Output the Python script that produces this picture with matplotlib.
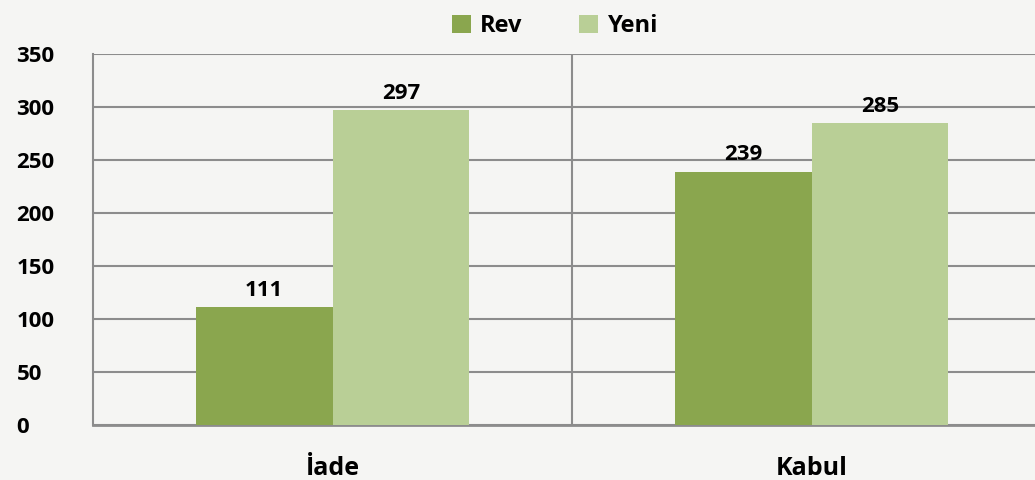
import matplotlib.pyplot as plt
import numpy as np

categories = ['İade', 'Kabul']
rev = [111, 239]
yeni = [297, 285]
yticks = [0, 50, 100, 150, 200, 250, 300, 350]

plt.rcParams['font.family'] = ['Open Sans', 'DejaVu Sans']
plt.rcParams['font.weight'] = 'bold'

bg = '#f5f5f3'
fig = plt.figure(figsize=(10.35, 4.8), dpi=100, facecolor=bg)
ax = fig.add_axes([93 / 1035, 55 / 480, 958 / 1035, 371 / 480])
ax.set_facecolor(bg)

x = np.arange(len(categories))
w = 0.286
b1 = ax.bar(x - w / 2, rev, w, color='#8aa64e', label='Rev', zorder=3)
b2 = ax.bar(x + w / 2, yeni, w, color='#b9cf96', label='Yeni', zorder=3)

for bars, vals in [(b1, rev), (b2, yeni)]:
    for bar, v in zip(bars, vals):
        ax.text(bar.get_x() + bar.get_width() / 2, v + 6, str(v),
                ha='center', va='bottom', fontsize=16, fontweight='bold')

ax.set_xlim(-0.5, 1.5)
ax.set_ylim(0, 350)
ax.set_yticks(yticks)
ax.set_xticks(x)
ax.set_xticklabels(categories, fontsize=18, fontweight='bold')
ax.tick_params(axis='x', length=0, pad=22)
ax.tick_params(axis='y', length=0, labelsize=16)
for lab in ax.get_yticklabels():
    lab.set_fontweight('bold')
    lab.set_horizontalalignment('left')
ax.tick_params(axis='y', pad=55)

ax.grid(axis='y', color='#8c8c8c', linewidth=1.5, zorder=0)
ax.axvline(0.5, color='#8c8c8c', linewidth=1.5, zorder=0)
for s in ['top', 'right']:
    ax.spines[s].set_visible(False)
ax.spines['left'].set_color('#8c8c8c')
ax.spines['left'].set_linewidth(1.5)
ax.spines['bottom'].set_color('#8c8c8c')
ax.spines['bottom'].set_linewidth(2)

fig.legend(loc='upper center', bbox_to_anchor=(0.536, 1.015), ncol=2, frameon=False,
           handlelength=0.8, handleheight=0.8, columnspacing=2.4,
           handletextpad=0.4, prop={'weight': 'bold', 'size': 17})

fig.savefig('out.png', dpi=100, facecolor=bg)
